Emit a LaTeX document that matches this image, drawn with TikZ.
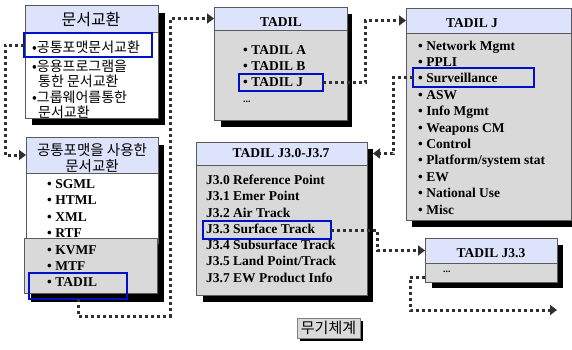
\documentclass[tikz,border=0pt]{standalone}
\usepackage{fontspec}
\setmainfont{Liberation Serif}
\newfontfamily\kr{Noto Sans CJK KR}
\usetikzlibrary{arrows.meta,calc}
\definecolor{hdrc}{HTML}{DDE3FB}
\definecolor{bodyg}{HTML}{D9D9D9}
\definecolor{bordc}{HTML}{5A5A5A}
\definecolor{hilc}{HTML}{0010C8}
\definecolor{connc}{HTML}{303030}
\newcommand\mkrect[6]{\node[#2,anchor=north west,minimum width={(#5-#3)*1pt},minimum height={(#6-#4)*1pt}] (#1) at (#3,#4) {};}
\begin{document}
\begin{tikzpicture}[x=1pt,y=-1pt,
  shadowbox/.style={fill=black,draw=none,inner sep=0,outer sep=0},
  hdrbox/.style={fill=hdrc,draw=bordc,line width=0.7pt,inner sep=0,outer sep=0},
  whitebox/.style={fill=white,draw=bordc,line width=0.7pt,inner sep=0,outer sep=0},
  graybox/.style={fill=bodyg,draw=bordc,line width=0.7pt,inner sep=0,outer sep=0},
  hilite/.style={draw=hilc,line width=1.4pt,inner sep=0,outer sep=0},
  connline/.style={draw=connc,line width=3pt,dash pattern=on 3pt off 3pt,-{Triangle[length=7pt,width=10pt,fill=connc]}},
  krt/.style={font=\kr\fontsize{14}{16}\selectfont,inner sep=0,anchor=base west},
  krh/.style={font=\kr\fontsize{14.5}{16}\selectfont,inner sep=0,anchor=center},
  ent/.style={font=\bfseries\fontsize{13.5}{16}\selectfont,inner sep=0,anchor=base west},
  enh/.style={font=\bfseries\fontsize{13.5}{16}\selectfont,inner sep=0,anchor=base},
]
\useasboundingbox (0,0) rectangle (572,349);
\fill[white] (0,0) rectangle (572,349);

% shadows
\mkrect{s1}{shadowbox}{32}{13}{165}{125}
\mkrect{s2}{shadowbox}{31}{145}{164}{302}
\mkrect{s3}{shadowbox}{221}{14}{352}{127}
\mkrect{s4}{shadowbox}{412}{15}{572}{227}
\mkrect{s5}{shadowbox}{203}{149}{373}{302}
\mkrect{s6}{shadowbox}{432}{245}{563}{288}
\mkrect{s7}{shadowbox}{300}{321}{363}{341}

% box 1
\mkrect{g1}{whitebox}{25}{32}{158}{118}
\mkrect{h1}{hdrbox}{25}{5}{158}{32}
% box 2
\mkrect{g2}{whitebox}{26}{173}{158}{243}
\mkrect{h2}{hdrbox}{26}{137}{158}{173}
\mkrect{g2b}{graybox}{24}{238}{157}{293}
% box 3
\mkrect{g3}{graybox}{214}{30}{347}{120}
\mkrect{h3}{hdrbox}{214}{7}{347}{30}
% box 4
\mkrect{g4}{graybox}{406}{33}{571}{220}
\mkrect{h4}{hdrbox}{406}{8}{571}{33}
% box 5
\mkrect{g5}{graybox}{196}{165}{367}{295}
\mkrect{h5}{hdrbox}{196}{142}{367}{165}
% box 6
\mkrect{g6}{graybox}{425}{263}{557}{282}
\mkrect{h6}{hdrbox}{425}{238}{557}{263}
% box 7
\node[graybox,draw=gray,anchor=north west,minimum width=63pt,minimum height=20pt,font=\kr\fontsize{15}{16}\selectfont] (w7) at (297,318) {무기체계};

% texts box 1
\node[font=\kr\fontsize{16}{18}\selectfont,inner sep=0] (t1h) at (91,19) {문서교환};
\node[krt] (t1a) at (32,52.5) {•공통포맷문서교환};
\node[krt] (t1b) at (32,71) {•응용프로그램을};
\node[krt] (t1c) at (38,86.5) {통한 문서교환};
\node[krt] (t1d) at (32,102) {•그룹웨어를통한};
\node[krt] (t1e) at (38,117) {문서교환};

% texts box 2
\node[krh] (t2h1) at (92,150) {공통포맷을 사용한};
\node[krh] (t2h2) at (92,166) {문서교환};
\foreach \t [count=\i from 0] in {SGML,HTML,XML,RTF,KVMF,MTF,TADIL}
  \node[ent] (l2-\i) at (47,188.5+16.4*\i) {• \t};

% texts box 3
\node[enh] (t3h) at (281,26) {TADIL};
\foreach \t [count=\i from 0] in {TADIL A,TADIL B,TADIL J}
  \node[ent] (l3-\i) at (243,54.5+16*\i) {• \t};
\node[ent,font=\bfseries\fontsize{10}{12}\selectfont] (l3-d) at (243,102) {...};

% texts box 4
\node[enh] (t4h) at (472,27.5) {TADIL J};
\foreach \t [count=\i from 0] in {Network Mgmt,PPLI,Surveillance,ASW,Info Mgmt,Weapons CM,Control,Platform/system stat,EW,National Use,Misc}
  \node[ent] (l4-\i) at (418,50+16.4*\i) {• \t};

% texts box 5
\node[enh] (t5h) at (281,157.5) {TADIL J3.0-J3.7};
\foreach \t [count=\i from 0] in {J3.0 Reference Point,J3.1 Emer Point,J3.2 Air Track,J3.3 Surface Track,J3.4 Subsurface Track,J3.5 Land Point/Track,J3.7 EW Product Info}
  \node[ent] (l5-\i) at (206,184.5+16.25*\i) {\t};

% texts box 6
\node[enh] (t6h) at (491,257.5) {TADIL J3.3};
\node[ent,font=\bfseries\fontsize{10}{12}\selectfont] (l6-d) at (443,272) {...};

% highlights
\mkrect{b1}{hilite}{24}{33}{152}{57}
\mkrect{b2}{hilite}{29}{273}{127}{299}
\mkrect{b3}{hilite}{239}{74}{323}{91}
\mkrect{b4}{hilite}{413}{68}{534}{87}
\mkrect{b5}{hilite}{203}{221}{331}{239}

% connectors
\coordinate (e6) at (557,310);
\draw[connline] (b1.west) -- ++(-19,0) |- (h2.west);
\draw[connline] (b2.south) -- ++(0,17) -- ++(92,0) |- (h3.west);
\draw[connline] (b3.east) -- ++(42,0) |- (h4.west);
\draw[connline] (b4.west) -- ++(-20,0) |- (s5.east |- h5.west);
\draw[connline] (b5.east) -- ++(46,0) |- (h6.west);
\draw[connline] ($(g6.south west)+(0,-5)$) -- ++(-15,0) |- (e6);
\end{tikzpicture}
\end{document}
